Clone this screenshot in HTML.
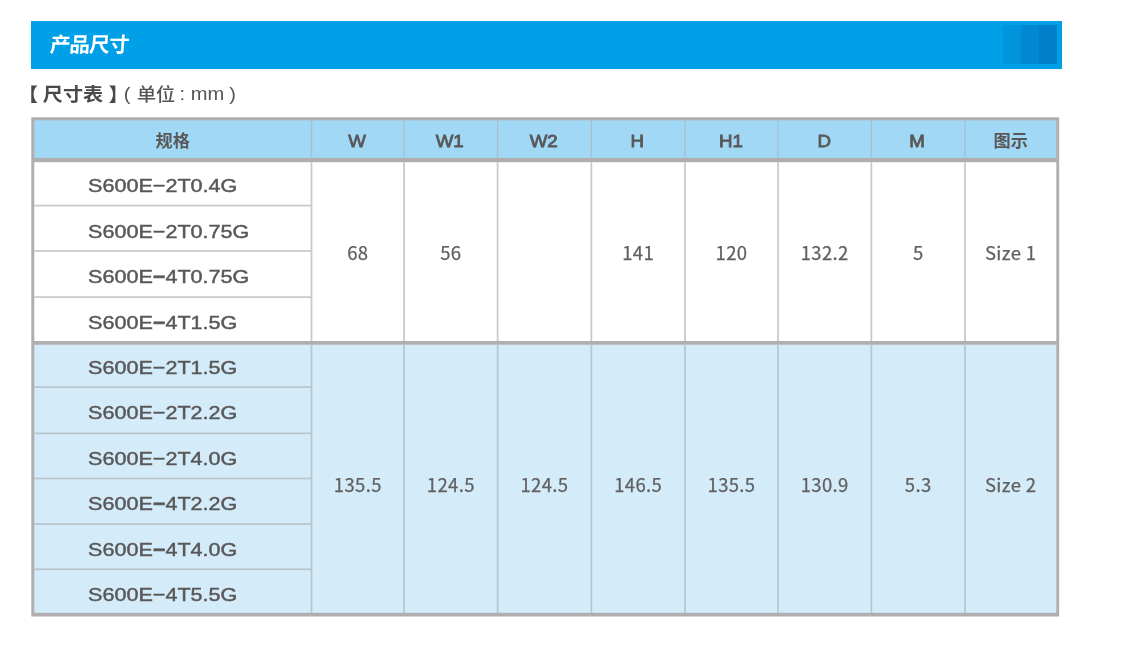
<!DOCTYPE html>
<html lang="zh-CN">
<head>
<meta charset="utf-8">
<title>产品尺寸</title>
<style>
*{margin:0;padding:0;box-sizing:border-box}
html,body{width:1136px;height:656px;background:#fff;overflow:hidden}
body{position:relative;filter:blur(0.45px);font-family:"Liberation Sans","Noto Sans CJK SC",sans-serif;color:#595757}
.abs{position:absolute}
.banner{position:absolute;left:30.8px;top:20.6px;width:1031.4px;height:48.1px;background:#00a0e8}
.banner h1{position:absolute;left:18.60px;top:7.40px;height:30px;line-height:30px;font-size:20.6px;font-weight:700;letter-spacing:-0.9px;color:#fff;font-family:"Noto Sans CJK SC","Liberation Sans",sans-serif;white-space:nowrap;transform:skewX(-4deg);transform-origin:left bottom}
.banner i{position:absolute;top:4.9px;height:38.9px;width:18.2px}
.sub{position:absolute;left:0;top:79.5px;width:300px;height:30px;line-height:30px;font-size:20.1px;white-space:nowrap;color:#555353;font-weight:500;font-family:"Noto Sans CJK SC","Liberation Sans",sans-serif}
.sub{transform:scaleY(.925);transform-origin:center top}
.sub span{position:absolute;top:0}
.sub .sm{font-size:19.2px}
.sub b{font-weight:700;color:#4a4848}
.sub .lat{font-family:"Liberation Sans",sans-serif}
.tbl{position:absolute;left:0;top:0;width:1136px;height:656px}
.grid{position:absolute;left:0;top:0;shape-rendering:geometricPrecision}
.cell{position:absolute;display:flex;align-items:center;justify-content:center;white-space:nowrap}
.hd{font-size:17.0px;color:#595757}
.hd span{display:inline-block;position:relative;left:-0.8px;top:3.2px;transform:scaleX(1.1);-webkit-text-stroke:0.8px #595757}
.hd em{font-style:normal;font-weight:700;font-size:17.2px;position:relative;top:0.8px;font-family:"Noto Sans CJK SC",sans-serif}
.nm{position:absolute;left:87.5px;height:26px;line-height:26px;font-size:19.1px;color:#595757;-webkit-text-stroke:0.45px #595757;white-space:nowrap;transform:scaleX(1.13);transform-origin:left center}
.nm b{font-weight:700}
.val{font-family:"Noto Sans CJK SC","Liberation Sans",sans-serif;font-size:18.5px;color:#626060;letter-spacing:0.35px;-webkit-text-stroke:0.25px #626060}
.val span{position:relative}
</style>
</head>
<body>
<div class="banner"><h1>产品尺寸</h1><i style="left:972.3px;width:17.5px;background:#0094dd"></i><i style="left:989.8px;background:#0089d2"></i><i style="left:1008.0px;background:#0080cb"></i></div>
<p class="sub"><span style="left:18.00px"><b>【</b></span><span style="left:42.80px"><b>尺寸表</b></span><span style="left:108.40px"><b>】</b></span><span class="lat" style="left:123.80px">(</span><span class="sm" style="left:136.90px">单位</span><span class="lat" style="left:179.60px">:</span><span class="lat" style="left:190.70px">mm</span><span class="lat" style="left:229.30px">)</span></p>
<section class="tbl">
<svg class="grid" width="1136" height="656" viewBox="0 0 1136 656" aria-hidden="true">
<rect x="31.30" y="117.30" width="1027.90" height="499.20" fill="#b0aeaf"/>
<rect x="34.30" y="120.30" width="1022.00" height="37.60" fill="#a0d8f6"/>
<rect x="34.30" y="162.20" width="1022.00" height="178.80" fill="#ffffff"/>
<rect x="34.30" y="344.70" width="1022.00" height="268.10" fill="#d4ecfa"/>
<rect x="310.80" y="120.30" width="1.40" height="37.60" fill="#a8c0cd"/>
<rect x="310.65" y="162.20" width="1.70" height="178.80" fill="#c8c8c8"/>
<rect x="310.65" y="344.70" width="1.70" height="268.10" fill="#b7c5cd"/>
<rect x="403.40" y="120.30" width="1.40" height="37.60" fill="#a8c0cd"/>
<rect x="403.25" y="162.20" width="1.70" height="178.80" fill="#c8c8c8"/>
<rect x="403.25" y="344.70" width="1.70" height="268.10" fill="#b7c5cd"/>
<rect x="496.90" y="120.30" width="1.40" height="37.60" fill="#a8c0cd"/>
<rect x="496.75" y="162.20" width="1.70" height="178.80" fill="#c8c8c8"/>
<rect x="496.75" y="344.70" width="1.70" height="268.10" fill="#b7c5cd"/>
<rect x="590.70" y="120.30" width="1.40" height="37.60" fill="#a8c0cd"/>
<rect x="590.55" y="162.20" width="1.70" height="178.80" fill="#c8c8c8"/>
<rect x="590.55" y="344.70" width="1.70" height="268.10" fill="#b7c5cd"/>
<rect x="684.30" y="120.30" width="1.40" height="37.60" fill="#a8c0cd"/>
<rect x="684.15" y="162.20" width="1.70" height="178.80" fill="#c8c8c8"/>
<rect x="684.15" y="344.70" width="1.70" height="268.10" fill="#b7c5cd"/>
<rect x="777.30" y="120.30" width="1.40" height="37.60" fill="#a8c0cd"/>
<rect x="777.15" y="162.20" width="1.70" height="178.80" fill="#c8c8c8"/>
<rect x="777.15" y="344.70" width="1.70" height="268.10" fill="#b7c5cd"/>
<rect x="870.70" y="120.30" width="1.40" height="37.60" fill="#a8c0cd"/>
<rect x="870.55" y="162.20" width="1.70" height="178.80" fill="#c8c8c8"/>
<rect x="870.55" y="344.70" width="1.70" height="268.10" fill="#b7c5cd"/>
<rect x="964.30" y="120.30" width="1.40" height="37.60" fill="#a8c0cd"/>
<rect x="964.15" y="162.20" width="1.70" height="178.80" fill="#c8c8c8"/>
<rect x="964.15" y="344.70" width="1.70" height="268.10" fill="#b7c5cd"/>
<rect x="34.30" y="204.75" width="277.20" height="1.70" fill="#c8c8c8"/>
<rect x="34.30" y="250.15" width="277.20" height="1.70" fill="#c8c8c8"/>
<rect x="34.30" y="296.25" width="277.20" height="1.70" fill="#c8c8c8"/>
<rect x="34.30" y="386.25" width="277.20" height="1.70" fill="#b7c5cd"/>
<rect x="34.30" y="432.55" width="277.20" height="1.70" fill="#b7c5cd"/>
<rect x="34.30" y="477.65" width="277.20" height="1.70" fill="#b7c5cd"/>
<rect x="34.30" y="523.25" width="277.20" height="1.70" fill="#b7c5cd"/>
<rect x="34.30" y="568.45" width="277.20" height="1.70" fill="#b7c5cd"/>
</svg>
<div class="cell hd" style="left:34.1px;top:120.1px;width:277.4px;height:37.8px;"><em>规格</em></div>
<div class="cell hd" style="left:311.5px;top:120.1px;width:92.6px;height:37.8px;"><span>W</span></div>
<div class="cell hd" style="left:404.1px;top:120.1px;width:93.5px;height:37.8px;"><span>W1</span></div>
<div class="cell hd" style="left:497.6px;top:120.1px;width:93.8px;height:37.8px;"><span>W2</span></div>
<div class="cell hd" style="left:591.4px;top:120.1px;width:93.6px;height:37.8px;"><span>H</span></div>
<div class="cell hd" style="left:685.0px;top:120.1px;width:93.0px;height:37.8px;"><span>H1</span></div>
<div class="cell hd" style="left:778.0px;top:120.1px;width:93.4px;height:37.8px;"><span>D</span></div>
<div class="cell hd" style="left:871.4px;top:120.1px;width:93.6px;height:37.8px;"><span>M</span></div>
<div class="cell hd" style="left:965.0px;top:120.1px;width:91.4px;height:37.8px;"><em>图示</em></div>
<div class="nm" style="top:173.30px">S600E−2T0.4G</div>
<div class="nm" style="top:218.50px">S600E−2T0.75G</div>
<div class="nm" style="top:264.40px">S600E<b>−</b>4T0.75G</div>
<div class="nm" style="top:309.60px">S600E<b>−</b>4T1.5G</div>
<div class="nm" style="top:354.90px">S600E−2T1.5G</div>
<div class="nm" style="top:400.20px">S600E−2T2.2G</div>
<div class="nm" style="top:445.80px">S600E−2T4.0G</div>
<div class="nm" style="top:491.00px">S600E<b>−</b>4T2.2G</div>
<div class="nm" style="top:536.80px">S600E<b>−</b>4T4.0G</div>
<div class="nm" style="top:582.10px">S600E−4T5.5G</div>
<div class="cell val" style="left:311.5px;top:162.2px;width:92.6px;height:178.8px;"><span style="top:0.5px">68</span></div>
<div class="cell val" style="left:404.1px;top:162.2px;width:93.5px;height:178.8px;"><span style="top:0.5px">56</span></div>
<div class="cell val" style="left:497.6px;top:162.2px;width:93.8px;height:178.8px;"></div>
<div class="cell val" style="left:591.4px;top:162.2px;width:93.6px;height:178.8px;"><span style="top:0.5px">141</span></div>
<div class="cell val" style="left:685.0px;top:162.2px;width:93.0px;height:178.8px;"><span style="top:0.5px">120</span></div>
<div class="cell val" style="left:778.0px;top:162.2px;width:93.4px;height:178.8px;"><span style="top:0.5px">132.2</span></div>
<div class="cell val" style="left:871.4px;top:162.2px;width:93.6px;height:178.8px;"><span style="top:0.5px">5</span></div>
<div class="cell val" style="left:965.0px;top:162.2px;width:91.4px;height:178.8px;"><span style="top:0.5px">Size 1</span></div>
<div class="cell val" style="left:311.5px;top:344.7px;width:92.6px;height:269.0px;"><span style="top:4.5px">135.5</span></div>
<div class="cell val" style="left:404.1px;top:344.7px;width:93.5px;height:269.0px;"><span style="top:4.5px">124.5</span></div>
<div class="cell val" style="left:497.6px;top:344.7px;width:93.8px;height:269.0px;"><span style="top:4.5px">124.5</span></div>
<div class="cell val" style="left:591.4px;top:344.7px;width:93.6px;height:269.0px;"><span style="top:4.5px">146.5</span></div>
<div class="cell val" style="left:685.0px;top:344.7px;width:93.0px;height:269.0px;"><span style="top:4.5px">135.5</span></div>
<div class="cell val" style="left:778.0px;top:344.7px;width:93.4px;height:269.0px;"><span style="top:4.5px">130.9</span></div>
<div class="cell val" style="left:871.4px;top:344.7px;width:93.6px;height:269.0px;"><span style="top:4.5px">5.3</span></div>
<div class="cell val" style="left:965.0px;top:344.7px;width:91.4px;height:269.0px;"><span style="top:4.5px">Size 2</span></div>
</section>
</body>
</html>
